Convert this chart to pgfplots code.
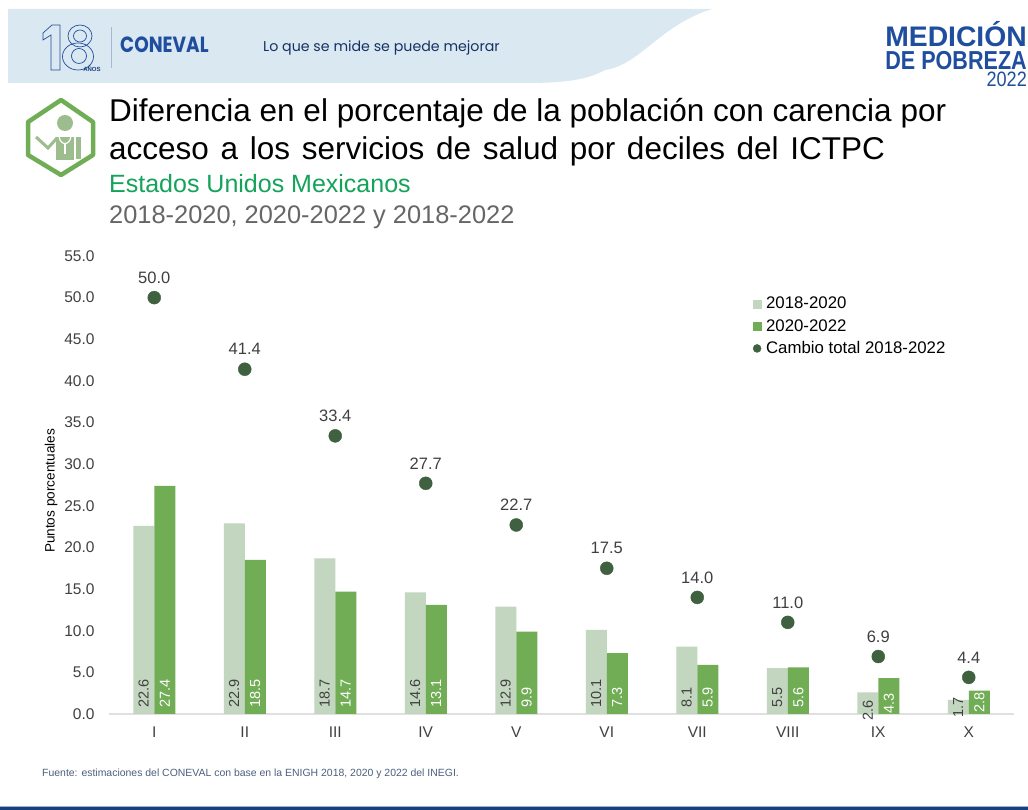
\documentclass[border=0pt]{standalone}
\usepackage{pgfplots}
\usepackage{pgfplotstable}
\usepackage{fontspec}
\setmainfont{Liberation Sans}
\newfontfamily\logofont{Poppins}
\pgfplotsset{compat=1.18}
\definecolor{cLight}{HTML}{C3D6BF}
\definecolor{cMid}{HTML}{70AD55}
\definecolor{cDark}{HTML}{3F6140}
\definecolor{cBanner}{HTML}{DAE8F1}
\definecolor{cNavy}{HTML}{1B3F7A}
\definecolor{cBlue}{HTML}{1F4E9E}
\definecolor{cTxt}{HTML}{404040}
\definecolor{cSub}{HTML}{14A35A}
\definecolor{cIcon}{HTML}{9DBD8E}
\pgfplotstableread{
x a la b lb t
0 22.6 0.72 27.4 0.72 50.0
1 22.9 0.72 18.5 0.72 41.4
2 18.7 0.72 14.7 0.72 33.4
3 14.6 0.72 13.1 0.72 27.7
4 12.9 0.72 9.9 0.72 22.7
5 10.1 0.72 7.3 0.72 17.5
6 8.1 0.72 5.9 0.72 14.0
7 5.5 0.72 5.6 0.72 11.0
8 2.6 -0.84 4.3 0.05 6.9
9 1.7 -0.5 2.8 0.1 4.4
}\tbl
\newcommand{\fs}[1]{\fontsize{#1}{#1}\selectfont}
\begin{document}
\begin{tikzpicture}[x=1pt,y=1pt]
\path[use as bounding box,fill=white] (0,0) rectangle (1028,810);
% banner
\fill[cBanner] (8,801) -- (712,801) .. controls (660,785) and (640,745) .. (605,740) .. controls (585,729) and (560,727) .. (525,727) -- (8,727) -- cycle;
% 18 logo
\begin{scope}[draw=cBlue,line width=0.7pt]
\draw (43,777) -- (52,785) -- (60,785) -- (60,740) -- (51,740) -- (51,775) -- (43,770) -- cycle;
\draw (80,774) ellipse (12 and 11);
\draw (78,753.5) ellipse (15.5 and 13.5);
\draw (80,774) ellipse (6.5 and 6);
\draw (79,754) ellipse (7.5 and 7.5);
\end{scope}
\node[text=cNavy,font=\fs{6}\bfseries,inner sep=0] at (92,741) {AÑOS};
\draw[color=cBlue!40,line width=0.6pt] (111,742) -- (111,783);
\node[text=cBlue,font=\logofont\fs{22}\bfseries,anchor=west,inner sep=0,xscale=0.84] at (120,765) {CONEVAL};
\node[text=cNavy!80!black,font=\logofont\fs{14.2},anchor=west,inner sep=0] at (263,762) {Lo que se mide se puede mejorar};
% right logo
\node[text=cBlue,font=\fs{28.3}\bfseries,anchor=base east,inner sep=0] at (1027,763) {MEDICIÓN};
\node[text=cBlue,font=\fs{26}\bfseries,anchor=base east,inner sep=0,xscale=0.83] at (1027,740) {DE POBREZA};
\node[text=cBlue,font=\fs{20.8},anchor=base east,inner sep=0,xscale=0.87] at (1027,723) {2022};
% icon
\draw[cMid,line width=4.5pt,line join=round,fill=white] (61,710) -- (93,688) -- (93,655) -- (61,635) -- (28,655) -- (28,688) -- cycle;
\fill[cIcon] (65,687) circle (8);
\draw[cIcon,line width=3pt] (36,673) -- (48,662) -- (57,672);
\fill[cIcon] (56,673) rectangle (74,650);
\fill[cIcon] (76,673) rectangle (81,651);
\draw[white,line width=1.2pt] (59,674) .. controls (60,664) and (70,664) .. (71,674);
\draw[white,line width=1.2pt] (65,667) -- (65,656);
% titles
\node[text=black,font=\fs{31.5},anchor=west,inner sep=0] at (109,697) {Diferencia en el porcentaje de la población con carencia por};
\node[text=black,font=\fs{31.5},anchor=west,inner sep=0] at (109,659) {\spaceskip=11.7pt\relax acceso a los servicios de salud por deciles del ICTPC};
\node[text=cSub,font=\fs{25},anchor=west,inner sep=0] at (109,626) {Estados Unidos Mexicanos};
\node[text=cTxt!80!white,font=\fs{25.4},anchor=west,inner sep=0] at (109,593) {2018-2020, 2020-2022 y 2018-2022};
% ylabel and source
\node[text=black,font=\fs{13.6},rotate=90,inner sep=0] at (51,319) {Puntos porcentuales};
\node[text=cNavy!50!gray,font=\fs{10.45},anchor=west,inner sep=0] at (42,36) {Fuente: estimaciones del CONEVAL con base en la ENIGH 2018, 2020 y 2022 del INEGI.};
% footer
\fill[cNavy] (0,0) rectangle (1028,3);
\fill[cBlue!45!white] (0,3) rectangle (1028,4);
\begin{axis}[
 at={(109pt,96pt)},anchor=south west,scale only axis,width=905pt,height=458pt,
 xmin=-0.5,xmax=9.5,ymin=0,ymax=55,clip=false,
 xtick={0,...,9},xticklabels={I,II,III,IV,V,VI,VII,VIII,IX,X},
 ytick={0,5,...,55},
 major tick length=0pt,
 axis x line*=bottom,axis y line*=left,
 x axis line style={draw=black!12,line width=2pt,-},
 y axis line style={draw=none,-},
 /pgf/number format/assume math mode=true,
 /pgf/number format/fixed,/pgf/number format/fixed zerofill,/pgf/number format/precision=1,
 ticklabel style={font=\fs{15.5},text=cTxt},
 xticklabel style={yshift=-9pt},
 yticklabel style={xshift=-11pt},
 legend style={at={(0.7115,0.915)},anchor=north west,draw=none,fill=none,font=\fs{16.8},text=black,row sep=5pt,inner sep=0pt},
 legend cell align=left,
]
\addplot[ybar,bar width=21pt,bar shift=-10.5pt,fill=cLight,draw=none,forget plot] table[x=x,y=a]{\tbl};
\addplot[ybar,bar width=21pt,bar shift=10.5pt,fill=cMid,draw=none,forget plot] table[x=x,y=b]{\tbl};
\addplot[draw=none,mark=none,forget plot,point meta=explicit symbolic,
 nodes near coords,every node near coord/.style={xshift=-10.5pt,rotate=90,anchor=west,inner sep=0pt,font=\fs{14.5},text=cTxt}]
 table[x=x,y=la,meta=a]{\tbl};
\addplot[draw=none,mark=none,forget plot,point meta=explicit symbolic,
 nodes near coords,every node near coord/.style={xshift=10.5pt,rotate=90,anchor=west,inner sep=0pt,font=\fs{14.5},text=white}]
 table[x=x,y=lb,meta=b]{\tbl};
\addplot[only marks,mark=*,mark size=6.5pt,mark options={draw=cDark,fill=cDark},forget plot,point meta=explicit symbolic,
 nodes near coords,every node near coord/.style={anchor=center,yshift=20pt,font=\fs{16.5},text=cTxt}]
 table[x=x,y=t,meta=t]{\tbl};
\addlegendimage{only marks,mark=square*,mark size=4pt,mark options={draw=cLight,fill=cLight}}
\addlegendentry{\hspace{3pt}2018-2020}
\addlegendimage{only marks,mark=square*,mark size=4pt,mark options={draw=cMid,fill=cMid}}
\addlegendentry{\hspace{3pt}2020-2022}
\addlegendimage{only marks,mark=*,mark size=4pt,mark options={draw=cDark,fill=cDark}}
\addlegendentry{\hspace{3pt}Cambio total 2018-2022}
\end{axis}
\end{tikzpicture}
\end{document}
